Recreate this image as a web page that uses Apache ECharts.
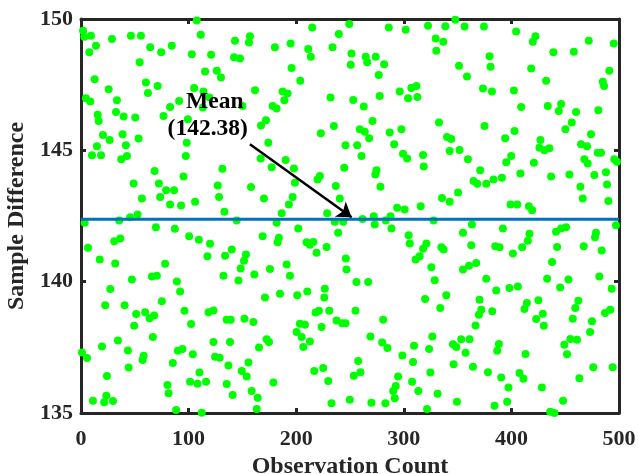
<!DOCTYPE html>
<html><head><meta charset="utf-8">
<script src="https://cdn.jsdelivr.net/npm/echarts@6/dist/echarts.min.js"></script>
<style>html,body{margin:0;padding:0;background:#fff}#c{width:638px;height:474px}</style>
</head><body><div id="c"></div>
<script>
const xTicks = [0, 100, 200, 300, 400, 500];
const yTicks = [135, 140, 145, 150];
const meanValue = 142.38;
const meanText = ['Mean', '(142.38)'];
const xTitle = 'Observation Count';
const yTitle = 'Sample Difference';

const obsX = [
107.6,1.9,3.1,9.3,28.8,46.4,55.7,111.3,13.9,7.7,64.3,74.5,84.4,103.0,120.9,54.5,115.3,12.7,60.3,71.2,
62.2,25.7,105.1,113.8,4.6,8.6,33.4,91.2,82.8,119.4,113.2,15.5,16.4,32.5,39.6,50.4,76.7,99.3,20.4,26.6,
38.7,53.5,98.3,14.8,41.7,214.9,239.6,157.0,156.1,143.1,180.2,194.8,211.2,213.6,233.8,142.2,147.8,126.2,130.1,195.7,
203.8,161.7,187.4,192.0,189.0,231.9,150.0,178.1,181.8,171.9,167.3,235.0,222.9,174.1,245.8,249.3,286.0,301.8,322.5,338.6,
347.9,356.5,329.6,336.7,330.2,251.4,250.7,264.6,266.0,273.9,281.7,276.7,351.3,358.7,253.0,262.8,277.6,296.2,307.0,311.7,
304.0,312.6,270.9,259.1,263.7,267.8,286.9,297.8,291.0,256.7,332.7,340.2,344.1,374.5,404.4,422.3,419.9,439.0,458.0,471.9,
495.1,379.7,380.6,418.4,432.3,491.0,484.9,486.1,373.6,381.9,402.3,409.1,433.8,446.2,444.0,460.1,480.8,375.0,402.9,394.2,
456.1,450.2,474.0,427.0,464.7,470.3,10.2,18.6,37.4,42.7,97.4,68.4,48.9,72.4,79.1,86.5,95.3,56.6,73.6,82.8,
93.0,106.0,52.6,45.7,35.5,3.4,69.6,87.2,100.5,109.5,119.9,30.9,36.5,6.5,17.4,31.8,78.2,117.5,167.0,190.2,
177.2,197.9,131.4,127.1,128.3,158.0,170.0,198.8,219.8,222.0,244.6,236.8,240.5,196.7,193.2,133.3,186.5,181.8,144.7,228.8,
235.9,243.7,201.9,239.0,168.8,183.9,182.7,209.6,215.9,212.7,218.9,228.2,140.1,133.9,153.3,151.5,148.4,246.1,246.7,175.6,
191.1,161.1,194.2,132.4,260.7,299.3,303.1,317.9,318.5,342.6,351.8,359.6,274.6,273.6,278.3,371.0,364.8,368.3,350.4,335.5,
342.6,315.7,293.8,300.8,261.6,272.1,273.0,283.2,287.6,288.5,327.7,363.3,355.0,304.5,305.5,321.0,317.9,334.9,337.0,362.7,
314.7,311.0,325.6,367.3,360.6,355.0,426.1,430.7,435.3,480.2,483.3,399.8,395.2,420.9,467.8,470.9,495.6,498.1,408.4,383.4,
376.6,391.2,436.9,453.9,477.1,487.9,488.9,464.1,466.3,490.1,399.2,405.4,416.2,419.3,497.2,392.1,416.8,415.3,410.0,385.0,
389.0,401.4,441.5,446.2,450.8,442.5,437.8,467.2,478.6,477.7,483.9,47.3,65.9,70.5,89.1,92.1,27.2,22.5,40.5,75.1,
51.3,59.6,63.7,68.0,49.4,96.2,102.3,118.5,66.8,34.3,19.5,43.6,0.9,5.6,58.2,57.2,44.3,90.0,94.3,103.9,
85.3,24.1,110.1,101.4,108.3,116.2,80.4,81.4,11.1,23.5,21.6,29.7,88.4,112.2,146.3,171.0,184.9,201.0,210.3,226.6,
226.1,123.1,135.4,139.1,151.9,160.2,218.0,221.1,230.7,203.4,208.1,223.6,237.5,242.8,200.4,205.0,212.7,206.6,123.1,138.5,
172.5,174.7,165.4,124.6,128.9,137.0,155.6,149.4,154.0,135.4,141.0,158.6,164.2,163.3,178.8,216.8,225.1,229.8,232.8,256.0,
266.9,328.7,319.8,339.5,333.9,370.4,372.0,369.8,366.7,255.1,280.8,245.8,269.0,279.9,284.8,326.5,323.5,309.5,298.7,308.6,
345.7,348.8,353.4,361.1,357.4,346.3,364.3,257.6,253.5,259.7,324.7,294.7,292.5,290.1,291.6,307.7,313.5,331.4,249.8,269.9,
282.9,349.4,321.6,376.6,433.2,453.0,481.7,445.3,493.2,385.9,398.2,406.0,382.2,414.4,412.1,425.1,429.2,423.0,430.1,462.2,
459.4,457.0,487.0,491.9,474.9,473.1,454.8,461.0,449.2,451.7,388.4,386.8,413.1,378.2,390.5,407.5,411.2,397.3,428.3,463.2,
476.1,494.1,384.3,396.1,448.0,436.0,440.0
];

const diffY = [
149.94,149.55,149.32,149.36,149.24,149.36,149.36,149.40,148.98,148.73,148.92,148.73,148.98,148.66,148.64,148.35,148.00,147.71,147.58,147.45,
147.18,147.33,147.37,147.24,146.98,146.86,146.91,146.88,146.65,147.01,146.63,146.35,146.12,146.46,146.29,146.25,146.31,146.18,145.58,145.39,
145.61,145.45,145.29,145.16,145.19,149.68,149.43,149.34,149.11,149.17,148.92,149.07,148.86,148.56,148.92,148.54,148.50,148.03,147.77,148.13,
147.65,147.29,147.24,147.16,146.91,147.01,146.69,146.69,146.59,146.15,145.95,145.93,145.65,145.29,145.19,149.81,149.68,149.59,149.74,149.72,
149.97,149.71,149.26,149.13,148.79,148.69,148.26,148.56,148.35,148.56,148.28,147.87,148.22,147.81,146.92,146.67,147.07,147.24,147.37,147.45,
146.98,147.03,146.12,145.80,145.71,145.46,145.68,145.80,145.23,145.19,146.06,145.51,145.43,149.71,149.52,149.34,149.13,148.73,148.75,149.17,
149.07,148.58,148.18,148.12,147.65,148.03,147.61,147.45,147.35,147.24,147.28,146.65,146.69,146.76,146.50,146.46,146.53,145.93,145.74,145.46,
146.06,145.80,145.61,145.39,145.23,145.16,144.81,144.81,144.66,144.78,144.78,144.21,143.74,143.74,143.48,143.48,144.00,143.17,143.22,142.94,
142.90,143.04,142.56,142.45,142.33,142.24,142.07,142.01,141.73,141.60,141.44,141.54,141.64,141.29,140.84,140.69,140.68,140.97,144.69,144.63,
144.36,144.31,144.30,143.66,143.22,143.60,143.17,143.77,143.89,144.02,144.34,143.64,143.17,143.22,142.94,142.66,142.60,142.24,142.33,142.60,
142.28,142.28,142.02,141.86,141.73,141.67,141.50,141.50,141.51,141.41,141.10,141.32,141.22,140.99,141.03,140.80,140.50,140.88,140.46,140.48,
140.65,140.27,140.23,140.23,144.78,144.87,144.69,144.82,144.38,144.97,145.01,144.66,144.24,144.08,143.61,144.24,143.83,143.73,143.39,143.19,
143.04,142.87,142.81,142.75,142.39,142.49,142.18,142.33,142.49,142.02,142.33,142.18,141.86,141.77,141.45,141.45,141.25,141.31,141.22,141.39,
140.97,140.84,140.55,140.71,140.61,140.46,145.10,145.00,145.08,144.91,144.91,144.78,144.55,144.53,144.66,144.50,144.66,144.57,144.12,143.89,
143.73,143.96,144.00,144.08,144.06,144.17,143.70,143.61,143.17,143.07,142.94,142.94,142.87,142.72,142.15,142.02,141.82,141.56,141.31,141.35,
141.31,141.07,141.90,142.02,142.07,141.32,140.75,141.35,141.86,141.69,141.19,140.08,140.20,140.23,140.01,139.63,139.72,139.10,139.10,139.25,
138.77,138.84,138.61,138.71,138.32,138.89,138.39,138.84,137.89,137.76,137.53,137.38,137.30,137.09,137.18,137.02,136.73,137.37,137.44,137.24,
136.90,136.41,136.54,136.19,136.11,136.19,136.07,135.75,135.47,135.66,135.41,135.46,135.11,135.01,140.04,139.40,139.54,139.48,139.63,139.73,
139.40,138.90,138.55,138.55,138.59,138.46,138.83,138.89,138.89,138.40,138.36,138.27,138.52,138.42,138.08,137.89,137.72,137.51,137.70,137.70,
137.81,137.70,137.49,137.14,137.10,136.81,136.92,136.60,136.39,136.10,135.69,135.84,135.58,135.15,136.16,136.60,136.71,136.22,135.37,139.99,
139.99,140.05,139.34,139.48,139.00,139.31,138.93,138.74,138.33,138.89,138.55,138.42,137.91,137.68,137.47,137.91,137.44,137.56,137.19,136.94,
137.62,137.51,137.81,137.81,137.29,136.86,136.76,136.98,136.42,136.55,136.54,136.39,136.03,135.84,135.56,136.19,135.84,135.73,135.50,135.39,
135.37,135.43,135.15,140.11,140.11,140.08,140.20,139.78,139.73,139.66,139.76,139.82,138.87,139.19,138.96,139.29,138.78,138.58,138.32,139.27,
139.00,138.59,138.81,138.93,138.49,138.08,137.82,137.79,137.60,137.24,137.63,137.37,137.25,136.55,136.35,136.52,136.30,135.97,135.97,136.32,
136.74,136.74,135.28,135.43,135.47,135.05,135.00
];

const points = obsX.map((x, i) => [x, diffY[i]]);
const xMin = xTicks[0], xMax = xTicks[xTicks.length - 1];
const yMin = yTicks[0], yMax = yTicks[yTicks.length - 1];

const FONT = '"Liberation Serif", "Times New Roman", serif';
const AX = '#262626';
const chart = echarts.init(document.getElementById('c'), null, {renderer: 'canvas'});

function axisBase(extra) {
  return Object.assign({
    type: 'value',
    axisLine: {show: true, onZero: false, lineStyle: {color: AX, width: 3}},
    axisTick: {show: true, inside: true, length: 5, lineStyle: {color: AX, width: 3}},
    splitLine: {show: false}
  }, extra);
}

chart.setOption({
  animation: false,
  backgroundColor: '#ffffff',
  grid: {left: 81, right: 19, top: 19, bottom: 61, containLabel: false, outerBoundsMode: 'none'},
  xAxis: [
    axisBase({position: 'bottom', min: xMin, max: xMax, interval: 100,
      name: xTitle, nameLocation: 'middle', nameGap: 42,
      nameTextStyle: {fontFamily: FONT, fontWeight: 'bold', fontSize: 24, color: AX},
      axisLabel: {fontFamily: FONT, fontWeight: 'bold', fontSize: 22, color: AX, margin: 15}}),
    axisBase({position: 'top', min: xMin, max: xMax, interval: 100, axisLabel: {show: false}})
  ],
  yAxis: [
    axisBase({position: 'left', min: yMin, max: yMax, interval: 5,
      name: yTitle, nameLocation: 'middle', nameGap: 46, nameRotate: 90,
      nameTextStyle: {fontFamily: FONT, fontWeight: 'bold', fontSize: 24, color: AX},
      axisLabel: {fontFamily: FONT, fontWeight: 'bold', fontSize: 22, color: AX, margin: 8}}),
    axisBase({position: 'right', min: yMin, max: yMax, interval: 5, axisLabel: {show: false}})
  ],
  series: [
    {
      type: 'scatter', data: points, symbol: 'circle', symbolSize: 8, clip: false,
      itemStyle: {color: '#00ff00', opacity: 1}, silent: true, z: 2
    },
    {
      type: 'line', data: [[xMin, meanValue], [xMax, meanValue]], symbol: 'none',
      lineStyle: {color: '#0072BD', width: 3}, silent: true, z: 3,
      markLine: {
        silent: true, symbol: ['none', 'arrow'], symbolSize: 14,
        lineStyle: {color: '#000', width: 2.5, type: 'solid'},
        label: {show: false},
        data: [[{coord: [157, 145.23]}, {coord: [251.5, 142.45]}]]
      },
      markPoint: {
        silent: true, symbol: 'circle', symbolSize: 0,
        label: {show: true, position: 'inside', fontFamily: FONT, fontWeight: 'bold', fontSize: 23.5, color: '#000'},
        data: [
          {coord: [124.3, 146.83], label: {formatter: meanText[0]}},
          {coord: [117.8, 145.80], label: {formatter: meanText[1]}}
        ]
      }
    }
  ]
});
</script></body></html>
